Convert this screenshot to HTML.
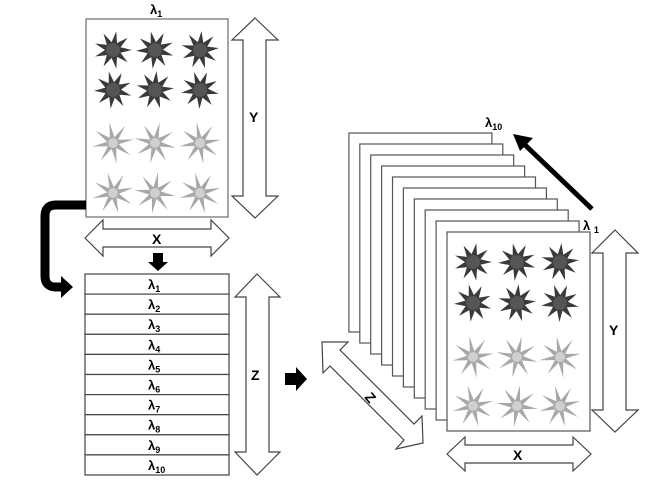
<!DOCTYPE html>
<html><head><meta charset="utf-8"><style>
html,body{margin:0;padding:0;background:#fff;width:661px;height:486px;overflow:hidden}
svg{display:block}
text{font-family:"Liberation Sans",sans-serif;font-weight:bold;fill:#000}
</style></head><body>
<svg id="s" width="661" height="486" viewBox="0 0 661 486" xmlns="http://www.w3.org/2000/svg">
<rect x="86" y="19" width="142" height="198" fill="#fff" stroke="#777" stroke-width="1.3"/>
<g id="plantsL"></g>
<text x="150" y="14" font-size="13">λ<tspan font-size="9" dy="3">1</tspan></text>
<polygon points="255,18 278,40 266,40 266,196 278,196 255,218 232,196 243,196 243,40 232,40" fill="#fff" stroke="#444" stroke-width="1.2"/>
<text x="249" y="122" font-size="14">Y</text>
<polygon points="85,238 103,220 103,229 211,229 211,220 229,238 211,256 211,247 103,247 103,256" fill="#fff" stroke="#444" stroke-width="1.2"/>
<text x="152" y="244" font-size="14">X</text>
<polygon points="153,253 163,253 163,262 168,262 158,271 148,262 153,262" fill="#000"/>
<path d="M86,205 H56 Q45,205 45,216 V276 Q45,287 56,287 H62" fill="none" stroke="#000" stroke-width="9"/>
<polygon points="61,276 73,287 61,298" fill="#000"/>
<g id="stack"></g>
<polygon points="257,274 280,297 269,297 269,452 280,452 257,475 235,452 246,452 246,297 235,297" fill="#fff" stroke="#444" stroke-width="1.2"/>
<text x="251" y="380" font-size="14">Z</text>
<polygon points="285,373 296,373 296,367 307,379 296,391 296,385 285,385" fill="#000"/>
<g id="pages"></g>
<g id="plantsR"></g>
<text x="485" y="127" font-size="13">λ<tspan font-size="9" dy="3">10</tspan></text>
<text x="583" y="230" font-size="13">λ <tspan font-size="9" dy="3">1</tspan></text>
<line x1="592" y1="209" x2="524" y2="144" stroke="#000" stroke-width="5"/>
<polygon points="513,134 533,138 520,151" fill="#000"/>
<polygon points="615,230 638,253 626,253 626,410 638,410 615,432 592,410 603,410 603,253 592,253" fill="#fff" stroke="#444" stroke-width="1.2"/>
<text x="609" y="335" font-size="14">Y</text>
<polygon points="447,454 465,437 465,445 573,445 573,437 591,454 573,471 573,463 465,463 465,471" fill="#fff" stroke="#444" stroke-width="1.2"/>
<text x="513" y="460" font-size="14">X</text>
<polygon points="322,342 348,342 340,350 414,424 422,416 423,443 396,449 404,440 330,366 323,373" fill="#fff" stroke="#444" stroke-width="1.2"/>
<text x="366" y="403" font-size="14" transform="rotate(50 371 398)">Z</text>
</svg>
<script>
var NS="http://www.w3.org/2000/svg";
function el(p,t,a){var e=document.createElementNS(NS,t);for(var k in a)e.setAttribute(k,a[k]);p.appendChild(e);return e;}
function star(g,cx,cy,n,ro,ri,fill,rot){var pts=[];for(var i=0;i<2*n;i++){var r=i%2?ri:ro;var a=rot+i*Math.PI/n;pts.push((cx+r*Math.cos(a)).toFixed(1)+","+(cy+r*Math.sin(a)).toFixed(1));}el(g,"polygon",{points:pts.join(" "),fill:fill});}
function plants(g,xs,ys){for(var j=0;j<4;j++)for(var i=0;i<3;i++){var dark=j<2;var cx=xs[i],cy=ys[j];
 if(dark){star(g,cx,cy,9,19,8,"#3a3a3a",i*0.3+j);el(g,"circle",{cx:cx,cy:cy,r:7,fill:"#555"});}
 else{star(g,cx,cy,8,21,6,"#a8a8a8",i*0.4+j*0.7);el(g,"circle",{cx:cx,cy:cy,r:5,fill:"#cfcfcf"});}}}
plants(document.getElementById("plantsL"),[113,155,200],[50,90,143,193]);
var st=document.getElementById("stack");
for(var i=0;i<10;i++){var y=274+i*20.1;el(st,"rect",{x:85,y:y,width:144,height:20.1,fill:"#fff",stroke:"#444","stroke-width":1.2});
 var t=el(st,"text",{x:148,y:y+15,"font-size":13});t.textContent="λ";var s=el(t,"tspan",{"font-size":9,dy:3});s.textContent=String(i+1);}
var pg=document.getElementById("pages");
for(var k=9;k>=0;k--){var x=447-k*10.9,y=232-k*11;el(pg,"rect",{x:x,y:y,width:143,height:199,fill:"#fff",stroke:"#555","stroke-width":1.2});}
plants(document.getElementById("plantsR"),[473,517,560],[262,303,357,406]);
</script>
</body></html>
